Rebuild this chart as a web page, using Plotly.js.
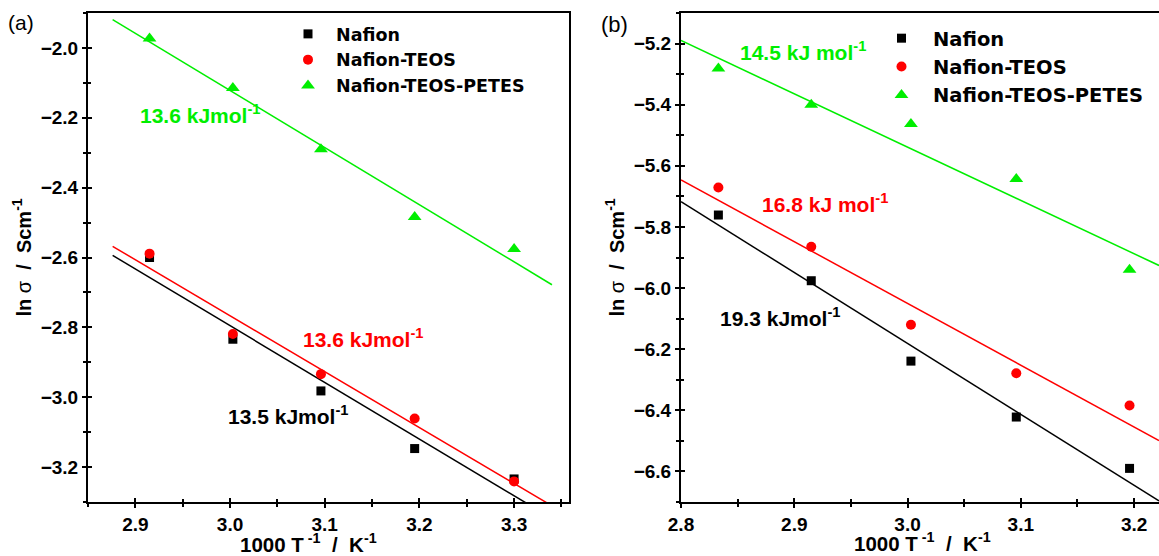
<!DOCTYPE html>
<html>
<head>
<meta charset="utf-8">
<script src="https://cdn.plot.ly/plotly-3.0.1.min.js"></script>
<style>
html,body{margin:0;padding:0;background:#fff;overflow:hidden;}
#chart{width:1159px;height:556px;}
</style>
</head>
<body>
<div id="chart"></div>
<script>
// ---------- data ----------
const seriesNames = ['Nafion', 'Nafion-TEOS', 'Nafion-TEOS-PETES'];

// panel (a)
const xA = [2.915, 3.003, 3.096, 3.195, 3.300];
const nafionA = [-2.600, -2.834, -2.982, -3.147, -3.234];
const teosA = [-2.589, -2.819, -2.934, -3.061, -3.241];
const petesA = [-1.973, -2.115, -2.290, -2.484, -2.576];
const fitXA = [2.876, 3.340];
const fitNafionA = [-2.594, -3.347];
const fitTeosA = [-2.568, -3.311];
const fitPetesA = [-1.919, -2.678];
const labelsA = ['13.5 kJmol<sup>-1</sup>', '13.6 kJmol<sup>-1</sup>', '13.6 kJmol<sup>-1</sup>'];
const xTicksA = [2.9, 3.0, 3.1, 3.2, 3.3];
const xTickTextA = ['2.9', '3.0', '3.1', '3.2', '3.3'];
const yTicksA = [-2.0, -2.2, -2.4, -2.6, -2.8, -3.0, -3.2];
const yTickTextA = ['-2.0', '-2.2', '-2.4', '-2.6', '-2.8', '-3.0', '-3.2'];

// panel (b)
const xB = [2.833, 2.915, 3.003, 3.096, 3.196];
const nafionB = [-5.761, -5.976, -6.239, -6.422, -6.590];
const teosB = [-5.671, -5.865, -6.120, -6.279, -6.384];
const petesB = [-5.282, -5.400, -5.463, -5.643, -5.940];
const fitXB = [2.800, 3.222];
const fitNafionB = [-5.717, -6.696];
const fitTeosB = [-5.646, -6.499];
const fitPetesB = [-5.190, -5.926];
const labelsB = ['19.3 kJmol<sup>-1</sup>', '16.8 kJ mol<sup>-1</sup>', '14.5 kJ mol<sup>-1</sup>'];
const xTicksB = [2.8, 2.9, 3.0, 3.1, 3.2];
const xTickTextB = ['2.8', '2.9', '3.0', '3.1', '3.2'];
const yTicksB = [-5.2, -5.4, -5.6, -5.8, -6.0, -6.2, -6.4, -6.6];
const yTickTextB = ['-5.2', '-5.4', '-5.6', '-5.8', '-6.0', '-6.2', '-6.4', '-6.6'];

const xTitle = '1000 T<sup> -1</sup>  /  K<sup>-1</sup>';
const yTitle = 'ln <span style="font-weight:normal">σ</span>  /  Scm<sup>-1</sup>';

// ---------- styling ----------
const FAM = 'Liberation Sans, Arial, sans-serif';
const LEGFAM = 'DejaVu Sans, Verdana, sans-serif';
const colors = ['#000000', '#ff0000', '#00ee00'];
const symbols = ['square', 'circle', 'triangle-up'];
const msizes = [9, 10, 12];

const W = 1159, H = 556;
const px = v => v / W;
const py = v => 1 - v / H;
const bold = arr => arr.map(t => '<b>' + t.replace('-', '\u2212') + '</b>');

const traces = [];
function addPanel(xv, ys, fitX, fits, xa, ya, legendName) {
  fits.forEach((f, i) => {
    traces.push({type:'scatter', mode:'lines', x: fitX, y: f, xaxis: xa, yaxis: ya,
      line:{color: colors[i], width: 1.5}, showlegend:false, hoverinfo:'skip'});
  });
  ys.forEach((y, i) => {
    traces.push({type:'scatter', mode:'markers', name: seriesNames[i], x: xv, y: y,
      xaxis: xa, yaxis: ya, legend: legendName, cliponaxis:false,
      marker:{symbol: symbols[i], size: msizes[i], color: colors[i], line:{width:0}}});
  });
}
addPanel(xA, [nafionA, teosA, petesA], fitXA, [fitNafionA, fitTeosA, fitPetesA], 'x', 'y', 'legend');
addPanel(xB, [nafionB, teosB, petesB], fitXB, [fitNafionB, fitTeosB, fitPetesB], 'x2', 'y2', 'legend2');
// empty traces to activate the inside-tick overlay axes
traces.push({type:'scatter', x:[], y:[], xaxis:'x3', yaxis:'y3', showlegend:false});
traces.push({type:'scatter', x:[], y:[], xaxis:'x4', yaxis:'y4', showlegend:false});

const tickFont = {family: FAM, size: 19, weight: 'bold', color: '#000'};
function mainAxis(o) {
  return Object.assign({
    showline: true, linewidth: 2, linecolor: '#000', ticks: 'outside', ticklen: 4,
    tickwidth: 2, tickcolor: '#000', tickmode: 'array', showgrid: false, zeroline: false,
    tickfont: tickFont, fixedrange: true
  }, o);
}
function insideAxis(o) {
  return Object.assign({
    showline: false, ticks: 'inside', ticklen: 4, tickwidth: 2, tickcolor: '#000',
    showticklabels: false, showgrid: false, zeroline: false, fixedrange: true
  }, o);
}
const minorX = (t0) => ({tickmode: 'linear', dtick: 0.05, tick0: t0, ticklen: 3, tickwidth: 2, tickcolor: '#000', showgrid: false});
const minorY = (t0) => ({tickmode: 'linear', dtick: 0.1, tick0: t0, ticklen: 3, tickwidth: 2, tickcolor: '#000', showgrid: false});

const domXA = [px(88), px(569)];
const domXB = [px(681), 1];
const domY = [1 - 502 / H, 1 - 13 / H];
const rangeXA = [2.85, 3.358], rangeYA = [-3.3, -1.9];
const rangeXB = [2.8, 3.222], rangeYB = [-6.7, -5.1];

const yTitleObj = (s) => ({text: yTitle, font: {family: FAM, size: 20, weight: 'bold', color: '#000'}, standoff: s});

const layout = {
  width: W, height: H, margin: {l: 0, r: 0, t: 0, b: 0},
  paper_bgcolor: '#fff', plot_bgcolor: '#fff', hovermode: false,
  xaxis: mainAxis({domain: domXA, range: rangeXA, anchor: 'y', mirror: true,
    tickvals: xTicksA, ticktext: bold(xTickTextA),
    minor: Object.assign(minorX(2.85), {ticks: 'outside'})}),
  yaxis: mainAxis({domain: domY, range: rangeYA, anchor: 'x', mirror: true,
    tickvals: yTicksA, ticktext: bold(yTickTextA),
    minor: Object.assign(minorY(-1.9), {ticks: 'outside'}), title: yTitleObj(4)}),
  xaxis2: mainAxis({domain: domXB, range: rangeXB, anchor: 'y2', mirror: true,
    tickvals: xTicksB, ticktext: bold(xTickTextB),
    minor: Object.assign(minorX(2.85), {ticks: 'outside'})}),
  yaxis2: mainAxis({domain: domY, range: rangeYB, anchor: 'x2', mirror: false,
    tickvals: yTicksB, ticktext: bold(yTickTextB),
    minor: Object.assign(minorY(-5.1), {ticks: 'outside'}), title: yTitleObj(4)}),
  xaxis3: insideAxis({overlaying: 'x', anchor: 'y', range: rangeXA, dtick: 0.1, tick0: 2.9,
    minor: Object.assign(minorX(2.85), {ticks: 'inside'})}),
  yaxis3: insideAxis({overlaying: 'y', anchor: 'x', range: rangeYA, dtick: 0.2, tick0: -2.0,
    minor: Object.assign(minorY(-1.9), {ticks: 'inside'})}),
  xaxis4: insideAxis({overlaying: 'x2', anchor: 'y2', range: rangeXB, dtick: 0.1, tick0: 2.8,
    minor: Object.assign(minorX(2.85), {ticks: 'inside'})}),
  yaxis4: insideAxis({overlaying: 'y2', anchor: 'x2', range: rangeYB, dtick: 0.2, tick0: -5.2,
    minor: Object.assign(minorY(-5.1), {ticks: 'inside'})}),
  legend: {x: px(280), y: py(16), xanchor: 'left', yanchor: 'top', bgcolor: 'rgba(0,0,0,0)',
    font: {family: LEGFAM, size: 17.5, weight: 'bold', color: '#000'}, itemwidth: 46, tracegroupgap: 0},
  legend2: {x: px(870), y: py(19), xanchor: 'left', yanchor: 'top', bgcolor: 'rgba(0,0,0,0)',
    font: {family: LEGFAM, size: 19.5, weight: 'bold', color: '#000'}, itemwidth: 53, tracegroupgap: 0},
  annotations: []
};

const annFont = (c, s) => ({family: FAM, size: s || 21, weight: 'bold', color: c});
function ann(text, x, y, color, xanchor, size, weight) {
  const f = annFont(color, size);
  if (weight) f.weight = weight;
  layout.annotations.push({text: text, xref: 'paper', yref: 'paper', x: px(x), y: py(y),
    xanchor: xanchor || 'left', yanchor: 'middle', showarrow: false, font: f});
}
// slope labels
ann(labelsA[2], 138, 114, colors[2]);
ann(labelsA[1], 301, 338, colors[1]);
ann(labelsA[0], 226, 415, colors[0]);
ann(labelsB[2], 738, 51, colors[2]);
ann(labelsB[1], 760, 203, colors[1]);
ann(labelsB[0], 718, 317, colors[0]);
// panel letters
ann('(a)', 6, 23, '#000', 'left', 21, 'normal');
ann('(b)', 599, 25, '#000', 'left', 22, 'normal');
// x axis titles
ann(xTitle, 308, 543, '#000', 'center', 20.5);
ann(xTitle, 922, 542, '#000', 'center', 20.5);

Plotly.newPlot('chart', traces, layout, {staticPlot: true, displayModeBar: false});
</script>
</body>
</html>
